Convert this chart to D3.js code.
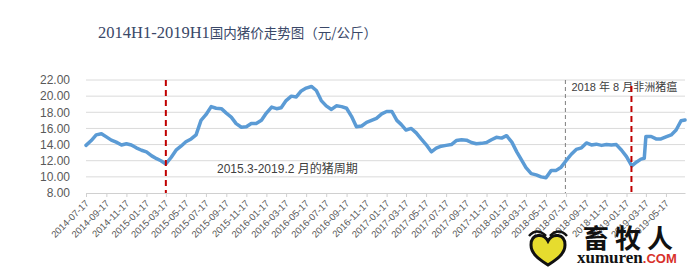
<!DOCTYPE html>
<html>
<head>
<meta charset="utf-8">
<script src="https://cdn.jsdelivr.net/npm/d3@7"></script>
<style>
  body { margin: 0; background: #fff; }
  svg { display: block; }
</style>
</head>
<body>
<div class="graph-container"></div>
<script>
const svgWidth = 700;
const svgHeight = 267;

// semi-monthly pig prices (yuan/kg)
const dates = [
  "2014-07-17","2014-08-02","2014-08-17","2014-09-02","2014-09-17","2014-10-02","2014-10-17","2014-11-02","2014-11-17","2014-12-02",
  "2014-12-17","2015-01-02","2015-01-17","2015-02-02","2015-02-17","2015-03-02","2015-03-17","2015-04-02","2015-04-17","2015-05-02",
  "2015-05-17","2015-06-02","2015-06-17","2015-07-02","2015-07-17","2015-08-02","2015-08-17","2015-09-02","2015-09-17","2015-10-02",
  "2015-10-17","2015-11-02","2015-11-17","2015-12-02","2015-12-17","2016-01-02","2016-01-17","2016-02-02","2016-02-17","2016-03-02",
  "2016-03-17","2016-04-02","2016-04-17","2016-05-02","2016-05-17","2016-06-02","2016-06-17","2016-07-02","2016-07-17","2016-08-02",
  "2016-08-17","2016-09-02","2016-09-17","2016-10-02","2016-10-17","2016-11-02","2016-11-17","2016-12-02","2016-12-17","2017-01-02",
  "2017-01-17","2017-02-02","2017-02-17","2017-03-02","2017-03-17","2017-04-02","2017-04-17","2017-05-02","2017-05-17","2017-06-02",
  "2017-06-17","2017-07-02","2017-07-17","2017-08-02","2017-08-17","2017-09-02","2017-09-17","2017-10-02","2017-10-17","2017-11-02",
  "2017-11-17","2017-12-02","2017-12-17","2018-01-02","2018-01-17","2018-02-02","2018-02-17","2018-03-02","2018-03-17","2018-04-02",
  "2018-04-17","2018-05-02","2018-05-17","2018-06-02","2018-06-17","2018-07-02","2018-07-17","2018-08-02","2018-08-17","2018-09-02",
  "2018-09-17","2018-10-02","2018-10-17","2018-11-02","2018-11-17","2018-12-02","2018-12-17","2019-01-02","2019-01-17","2019-02-02",
  "2019-02-17","2019-03-02","2019-03-12","2019-03-17","2019-04-02","2019-04-17","2019-05-02","2019-05-17","2019-06-02","2019-06-17",
  "2019-07-02","2019-07-14"
];
const prices = [
  13.9, 14.5, 15.2, 15.35, 14.95, 14.55, 14.3, 13.95, 14.1, 13.95,
  13.6, 13.3, 13.1, 12.6, 12.25, 12.0, 11.6, 12.4, 13.3, 13.8,
  14.35, 14.7, 15.2, 17.0, 17.7, 18.7, 18.5, 18.45, 17.9, 17.4,
  16.6, 16.15, 16.2, 16.6, 16.6, 17.0, 17.9, 18.65, 18.45, 18.55,
  19.45, 20.0, 19.9, 20.65, 21.0, 21.2, 20.7, 19.45, 18.8, 18.35,
  18.8, 18.7, 18.5, 17.5, 16.2, 16.3, 16.75, 17.0, 17.25, 17.8,
  18.1, 18.1, 17.0, 16.5, 15.8, 16.0, 15.45, 14.7, 14.0, 13.1,
  13.55, 13.8, 13.9, 14.0, 14.5, 14.6, 14.55, 14.25, 14.1, 14.15,
  14.25, 14.6, 14.9, 14.8, 15.1, 14.3, 13.1, 12.2, 11.15, 10.4,
  10.25, 10.0, 9.9, 10.8, 10.8, 11.2, 12.0, 12.8, 13.4, 13.6,
  14.2, 13.95, 14.05, 13.9, 14.0, 13.95, 14.0, 13.3, 12.5, 11.35,
  11.85, 12.2, 12.3, 15.0, 15.0, 14.7, 14.7, 14.95, 15.2, 15.8,
  16.95, 17.05
];

const tickLabels = [
  "2014-07-17","2014-09-17","2014-11-17","2015-01-17","2015-03-17","2015-05-17","2015-07-17","2015-09-17","2015-11-17","2016-01-17",
  "2016-03-17","2016-05-17","2016-07-17","2016-09-17","2016-11-17","2017-01-17","2017-03-17","2017-05-17","2017-07-17","2017-09-17",
  "2017-11-17","2018-01-17","2018-03-17","2018-05-17","2018-07-17","2018-09-17","2018-11-17","2019-01-17","2019-03-17","2019-05-17"
];
const yTicks = [8, 10, 12, 14, 16, 18, 20, 22];

const cycleLines = ["2015-03-17", "2019-02-01"];
const aswfLine = "2018-07-15";
const titleLatin = "2014H1-2019H1";
const titleCjk = "国内猪价走势图（元/公斤）";
const cycleNote = "2015.3-2019.2 月的猪周期";
const aswfNote = "2018 年 8 月非洲猪瘟";

const parse = d3.timeParse("%Y-%m-%d");
const data = dates.map((d, i) => ({ date: parse(d), value: prices[i] }));

const plot = { left: 86, right: 685, top: 80, bottom: 193 };

const x = d3.scaleTime()
  .domain([parse("2014-07-17"), parse("2019-07-14")])
  .range([plot.left, plot.right]);

const y = d3.scaleLinear()
  .domain([8, 22])
  .range([plot.bottom, plot.top]);

const svg = d3.select(".graph-container")
  .append("svg")
  .attr("width", svgWidth)
  .attr("height", svgHeight);

// title
const title = svg.append("text")
  .attr("x", 98)
  .attr("y", 38)
  .attr("fill", "#3a4868");
title.append("tspan")
  .attr("font-family", "'Liberation Serif', serif")
  .attr("font-size", 16.5)
  .text(titleLatin);
title.append("tspan")
  .attr("font-family", "'Noto Sans CJK SC', sans-serif")
  .attr("font-size", 13.5)
  .text(titleCjk);

// gridlines
svg.append("g")
  .selectAll("line")
  .data(yTicks.filter(t => t > 8))
  .enter()
  .append("line")
  .attr("x1", plot.left)
  .attr("x2", plot.right)
  .attr("y1", d => y(d))
  .attr("y2", d => y(d))
  .attr("stroke", "#dadada")
  .attr("stroke-width", 1);

// y labels
const yAxis = d3.axisLeft(y)
  .tickValues(yTicks)
  .tickFormat(d3.format(".2f"))
  .tickSize(0)
  .tickPadding(0);
svg.append("g")
  .attr("transform", `translate(70,0)`)
  .call(yAxis)
  .call(g => g.select(".domain").remove())
  .selectAll("text")
  .attr("font-family", "'Liberation Sans', Arial, sans-serif")
  .attr("font-size", 12)
  .attr("fill", "#595959");

// x axis
const xAxis = d3.axisBottom(x)
  .tickValues(tickLabels.map(parse))
  .tickFormat((d, i) => tickLabels[i])
  .tickSizeInner(4)
  .tickSizeOuter(0);
const xg = svg.append("g")
  .attr("transform", `translate(0,${plot.bottom})`)
  .call(xAxis);
xg.select(".domain").attr("stroke", "#d0d0d0");
xg.selectAll(".tick line").attr("stroke", "#d0d0d0");
xg.selectAll(".tick text")
  .attr("x", 0)
  .attr("y", 0)
  .attr("dy", 0)
  .attr("transform", "translate(3,11) rotate(-45)")
  .style("text-anchor", "end")
  .attr("font-family", "'Liberation Sans', Arial, sans-serif")
  .attr("font-size", 9.5)
  .attr("fill", "#595959");

// 2018 ASF marker
svg.append("line")
  .attr("x1", x(parse(aswfLine)))
  .attr("x2", x(parse(aswfLine)))
  .attr("y1", plot.top)
  .attr("y2", plot.bottom)
  .attr("stroke", "#7f7f7f")
  .attr("stroke-width", 1)
  .attr("stroke-dasharray", "4,3");

svg.append("text")
  .attr("x", x(parse(aswfLine)) + 6)
  .attr("y", 91)
  .attr("font-family", "'Liberation Sans', 'Noto Sans CJK SC', sans-serif")
  .attr("font-size", 11)
  .attr("fill", "#404040")
  .text(aswfNote);

// price line
const line = d3.line()
  .x(d => x(d.date))
  .y(d => y(d.value));

svg.append("path")
  .datum(data)
  .attr("d", line)
  .attr("fill", "none")
  .attr("stroke", "#5b9bd5")
  .attr("stroke-width", 3.5)
  .attr("stroke-linejoin", "round")
  .attr("stroke-linecap", "round");

// pig cycle markers
svg.append("g")
  .selectAll("line")
  .data(cycleLines)
  .enter()
  .append("line")
  .attr("x1", d => x(parse(d)))
  .attr("x2", d => x(parse(d)))
  .attr("y1", (d, i) => i === 0 ? plot.top : 86)
  .attr("y2", plot.bottom)
  .attr("stroke", "#c00000")
  .attr("stroke-width", 2)
  .attr("stroke-dasharray", "6,4");

svg.append("text")
  .attr("x", 217)
  .attr("y", 172.5)
  .attr("font-family", "'Liberation Sans', 'Noto Sans CJK SC', sans-serif")
  .attr("font-size", 12)
  .attr("fill", "#404040")
  .text(cycleNote);

// watermark logo
const logo = svg.append("g");
logo.append("path")
  .attr("transform", "translate(548,249)")
  .attr("d", "M0,-8 C-4,-16 -17,-16 -17,-4 C-17,6 -6,12 0,16 C6,12 17,6 17,-4 C17,-16 4,-16 0,-8Z")
  .attr("fill", "#e6dc2e")
  .attr("stroke", "#111")
  .attr("stroke-width", 3);
logo.append("path")
  .attr("transform", "translate(548,249)")
  .attr("d", "M-19,-13 Q-11,-22 -2,-13 M2,-13 Q11,-22 19,-13")
  .attr("fill", "none")
  .attr("stroke", "#111")
  .attr("stroke-width", 2.5);
logo.append("text")
  .attr("x", 583)
  .attr("y", 248)
  .attr("font-family", "'Noto Sans CJK SC', sans-serif")
  .attr("font-weight", "bold")
  .attr("font-size", 26)
  .attr("letter-spacing", 6)
  .attr("fill", "#111")
  .text("畜牧人");
const url = logo.append("text")
  .attr("x", 577)
  .attr("y", 263)
  .attr("font-weight", "bold");
url.append("tspan")
  .attr("font-family", "'Liberation Serif', serif")
  .attr("font-size", 17)
  .attr("fill", "#111")
  .text("xumuren");
url.append("tspan")
  .attr("font-family", "'Liberation Sans', sans-serif")
  .attr("font-size", 13)
  .attr("fill", "#d8312a")
  .text(".COM");
</script>
</body>
</html>
